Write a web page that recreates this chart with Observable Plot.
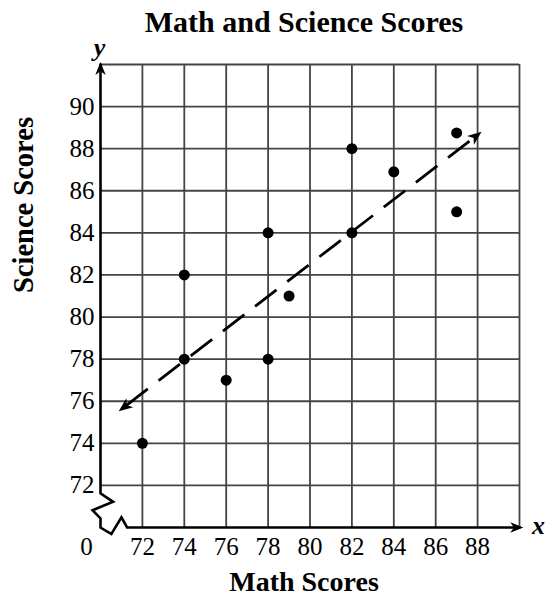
<!DOCTYPE html>
<html>
<head>
<meta charset="utf-8">
<script src="https://cdn.jsdelivr.net/npm/d3@7"></script>
<script src="https://cdn.jsdelivr.net/npm/@observablehq/plot@0.6"></script>
<style>
  body { margin: 0; background: #fff; }
  #title {
    font-family: "Liberation Serif", "Times New Roman", serif;
    font-weight: bold;
    font-size: 30px;
    height: 40px;
    line-height: 44px;
    margin: 0;
    padding-left: 63px;
    width: 482px;
    text-align: center;
    color: #000;
    white-space: nowrap;
  }
  #chart svg { display: block; }
</style>
</head>
<body>
<div id="title">Math and Science Scores</div>
<div id="chart"></div>
<script>
// ---- data ----
const mathScores    = [72, 74, 74, 76, 78, 78, 79, 82, 82, 84, 87, 87];
const scienceScores = [74, 78, 82, 77, 78, 84, 81, 84, 88, 86.9, 85, 88.75];

const xTicks = [72, 74, 76, 78, 80, 82, 84, 86, 88];
const yTicks = [72, 74, 76, 78, 80, 82, 84, 86, 88, 90];
const xGrid = [72, 74, 76, 78, 80, 82, 84, 86, 88, 90];
const yGrid = [72, 74, 76, 78, 80, 82, 84, 86, 88, 90, 92];

// trend line (lower-left tip to upper-right tip)
const trendX = [70.87, 88.19];
const trendY = [75.52, 88.8];

// axes with break symbols (y axis top -> origin -> x axis right)
const axisX = [70, 70, 70.6, 69.62, 70, 70, 70.52, 71.0, 71.27, 90];
const axisY = [92, 71.62, 71.22, 70.82, 70.43, 70, 69.69, 70.48, 70, 70];
const yArrowTip = [70, 92.12];
const xArrowTip = [90.18, 70];

const xDomain = [70, 90];
const yDomain = [70, 92];

// ---- layout ----
const W = 545, H = 557, mL = 100, mR = 26, mT = 24, mB = 70;
const pxX = (W - mL - mR) / (xDomain[1] - xDomain[0]);
const pxY = (H - mT - mB) / (yDomain[1] - yDomain[0]);
const trendAngle = Math.atan2((trendX[1] - trendX[0]) * pxX, (trendY[1] - trendY[0]) * pxY) * 180 / Math.PI;

const points = mathScores.map((m, i) => ({math: m, science: scienceScores[i]}));
const axisPath = axisX.map((x, i) => ({x, y: axisY[i]}));
const trend = [{x1: trendX[0], y1: trendY[0], x2: trendX[1], y2: trendY[1]}];

const headShape = {
  draw(ctx, l) {
    const w = l * 0.4;
    ctx.moveTo(0, -l);
    ctx.lineTo(w, 0);
    ctx.lineTo(0, -l * 0.28);
    ctx.lineTo(-w, 0);
    ctx.closePath();
  }
};

const serif = '"Liberation Serif", "Times New Roman", serif';

const chart = Plot.plot({
  width: W,
  height: H,
  marginLeft: mL,
  marginRight: mR,
  marginTop: mT,
  marginBottom: mB,
  style: {fontFamily: serif, fontSize: "25px", color: "#000", background: "#fff", overflow: "visible"},
  x: {domain: xDomain},
  y: {domain: yDomain},
  marks: [
    // grid
    Plot.ruleX(xGrid, {y1: yDomain[0], y2: yDomain[1], stroke: "#444", strokeWidth: 1.8}),
    Plot.ruleY(yGrid, {x1: xDomain[0], x2: xDomain[1], stroke: "#444", strokeWidth: 1.8}),
    // tick labels
    Plot.axisX(xTicks, {tickSize: 0, tickPadding: 10, label: null, fontSize: 25, fontFamily: serif}),
    Plot.axisY(yTicks, {tickSize: 0, tickPadding: 6, label: null, fontSize: 25, fontFamily: serif}),
    Plot.text(["0"], {x: xDomain[0], y: yDomain[0], dx: -14, dy: 10, lineAnchor: "top", fontSize: 25, fontFamily: serif, fill: "#000"}),
    // axes with breaks
    Plot.line(axisPath, {x: "x", y: "y", stroke: "#000", strokeWidth: 2.6, strokeLinejoin: "miter", strokeMiterlimit: 10}),
    Plot.vector([yArrowTip], {x: d => d[0], y: d => d[1], length: 13, rotate: 0, anchor: "end", shape: headShape, fill: "#000", stroke: "none"}),
    Plot.vector([xArrowTip], {x: d => d[0], y: d => d[1], length: 13, rotate: 90, anchor: "end", shape: headShape, fill: "#000", stroke: "none"}),
    // axis letters
    Plot.text(["y"], {x: xDomain[0], y: yDomain[1], dx: -1, dy: -9, lineAnchor: "bottom", fontSize: 26, fontFamily: serif, fontStyle: "italic", fontWeight: "bold", fill: "#000"}),
    Plot.text(["x"], {x: xDomain[1], y: yDomain[0], dx: 19, dy: 6, lineAnchor: "bottom", fontSize: 26, fontFamily: serif, fontStyle: "italic", fontWeight: "bold", fill: "#000"}),
    // trend line
    Plot.arrow(trend, {x1: "x1", y1: "y1", x2: "x2", y2: "y2", headLength: 0, insetEnd: 6, stroke: "#000", strokeWidth: 2.8, strokeLinecap: "butt", strokeDasharray: "27,13.6", strokeDashoffset: 30.9}),
    Plot.vector(trend, {x: "x1", y: "y1", length: 14, rotate: trendAngle + 180, anchor: "end", shape: headShape, fill: "#000", stroke: "none"}),
    Plot.vector(trend, {x: "x2", y: "y2", length: 14, rotate: trendAngle, anchor: "end", shape: headShape, fill: "#000", stroke: "none"}),
    // data points
    Plot.dot(points, {x: "math", y: "science", r: 5.5, fill: "#000", stroke: "none"}),
    // axis titles
    Plot.text(["Science Scores"], {frameAnchor: "left", dx: -77, dy: -3, rotate: -90, lineAnchor: "middle", fontSize: 28.5, fontFamily: serif, fontWeight: "bold", fill: "#000"}),
    Plot.text(["Math Scores"], {frameAnchor: "bottom", dx: -6, dy: 63, lineAnchor: "bottom", fontSize: 28, fontFamily: serif, fontWeight: "bold", fill: "#000"})
  ]
});
document.getElementById("chart").appendChild(chart);
</script>
</body>
</html>
